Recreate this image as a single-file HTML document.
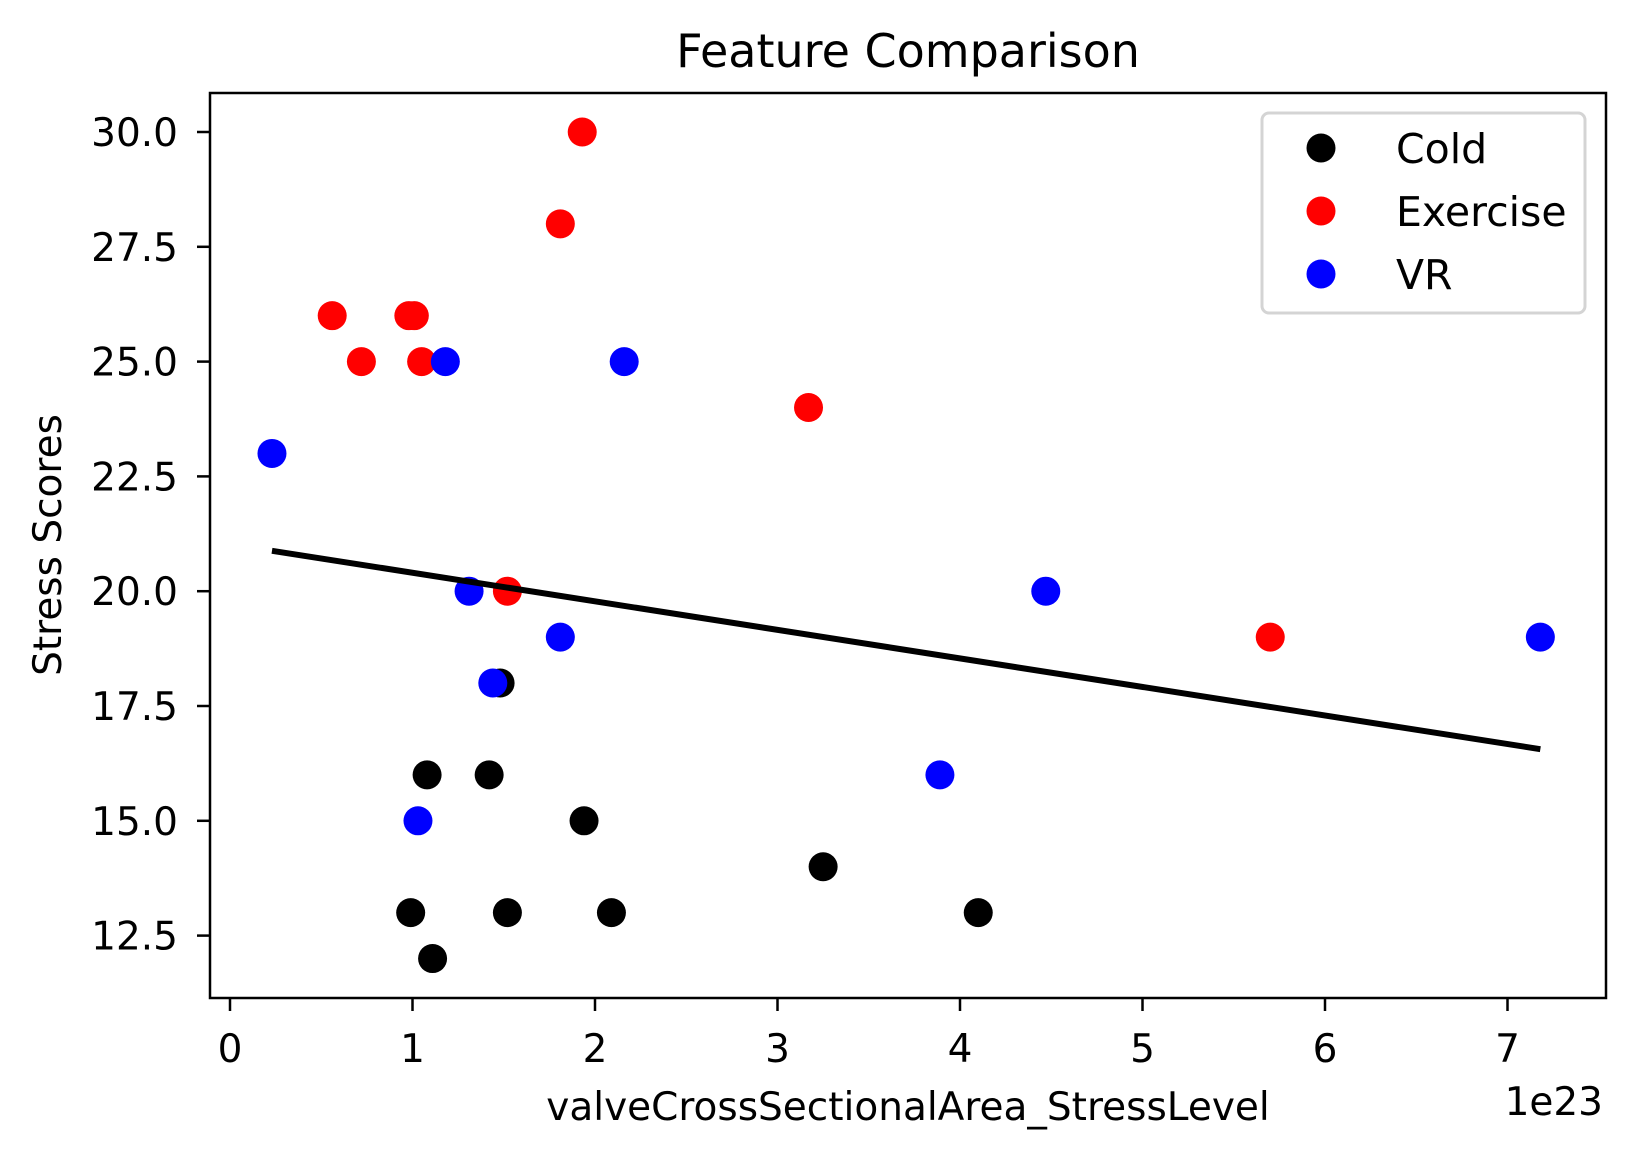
<!DOCTYPE html>
<html><head><meta charset="utf-8"><style>
body{margin:0;background:#fff;font-family:"DejaVu Sans","Liberation Sans",sans-serif}
</style></head><body>
<svg id="chart" width="1635" height="1159" xmlns="http://www.w3.org/2000/svg" font-family="DejaVu Sans, Liberation Sans, sans-serif"></svg>
<script>
const xTicks=[0,1,2,3,4,5,6,7];
const yTicks=[12.5,15.0,17.5,20.0,22.5,25.0,27.5,30.0];
const coldX=[1.08,1.42,1.48,1.94,0.99,1.52,2.09,1.11,3.25,4.10];
const coldY=[16,16,18,15,13,13,13,12,14,13];
const exX=[1.93,1.81,0.56,0.98,1.01,0.72,1.05,3.17,1.52,5.70];
const exY=[30,28,26,26,26,25,25,24,20,19];
const vrX=[1.18,2.16,0.23,1.31,1.81,1.44,1.03,3.89,4.47,7.18];
const vrY=[25,25,23,20,19,18,15,16,20,19];
const fitX=[0.23,7.18];
const fitY=[20.88,16.56];
const NS="http://www.w3.org/2000/svg";
const svg=document.getElementById('chart');
const L=210,R=1606,T=93,B=998;
const sx=v=>230+v*182.5;
const sy=v=>132+(30-v)*45.92;
function el(t,a,p){const e=document.createElementNS(NS,t);for(const k in a)e.setAttribute(k,a[k]);(p||svg).appendChild(e);return e;}
let t=el('text',{x:908,y:67,'font-size':46,'text-anchor':'middle'});t.textContent='Feature Comparison';


const fr=el('rect',{x:L,y:T,width:R-L,height:B-T,fill:'none',stroke:'#000','stroke-width':2.5});


xTicks.forEach(v=>{const x=sx(v);el('line',{x1:x,x2:x,y1:B,y2:B+13,stroke:'#000','stroke-width':2.5});
const tx=el('text',{x:x,y:1062,'font-size':39,'text-anchor':'middle'});tx.textContent=v;

});
yTicks.forEach(v=>{const y=sy(v);el('line',{x1:L,x2:L-13,y1:y,y2:y,stroke:'#000','stroke-width':2.5});
const tx=el('text',{x:178,y:y+14,'font-size':39,'text-anchor':'end'});tx.textContent=v.toFixed(1);

});
t=el('text',{x:908,y:1120,'font-size':39,'text-anchor':'middle'});t.textContent='valveCrossSectionalArea_StressLevel';


t=el('text',{x:1603,y:1115,'font-size':39,'text-anchor':'end'});t.textContent='1e23';


t=el('text',{x:0,y:0,'font-size':39,'text-anchor':'middle',transform:'translate(61,545) rotate(-90)'});t.textContent='Stress Scores';


function series(xs,ys,c,name){xs.forEach((x,i)=>{const p=el('circle',{cx:sx(x),cy:sy(ys[i]),r:14.5,fill:c});

});}
series(coldX,coldY,'#000','cold');
series(exX,exY,'#ff0000','exercise');
series(vrX,vrY,'#0000ff','vr');
const ln=el('line',{x1:sx(fitX[0]),y1:sy(fitY[0]),x2:sx(fitX[1]),y2:sy(fitY[1]),stroke:'#000','stroke-width':6});


const lg=el('rect',{x:1262,y:113,width:323,height:200,rx:7,fill:'#fff','fill-opacity':0.8,stroke:'#d4d4d4','stroke-width':3});


[['Cold','#000',148],['Exercise','#ff0000',211],['VR','#0000ff',274]].forEach(([n,c,y])=>{
const p=el('circle',{cx:1321,cy:y,r:14.5,fill:c});


const tx=el('text',{x:1396,y:y+15,'font-size':41});tx.textContent=n;

});
</script>
</body></html>
